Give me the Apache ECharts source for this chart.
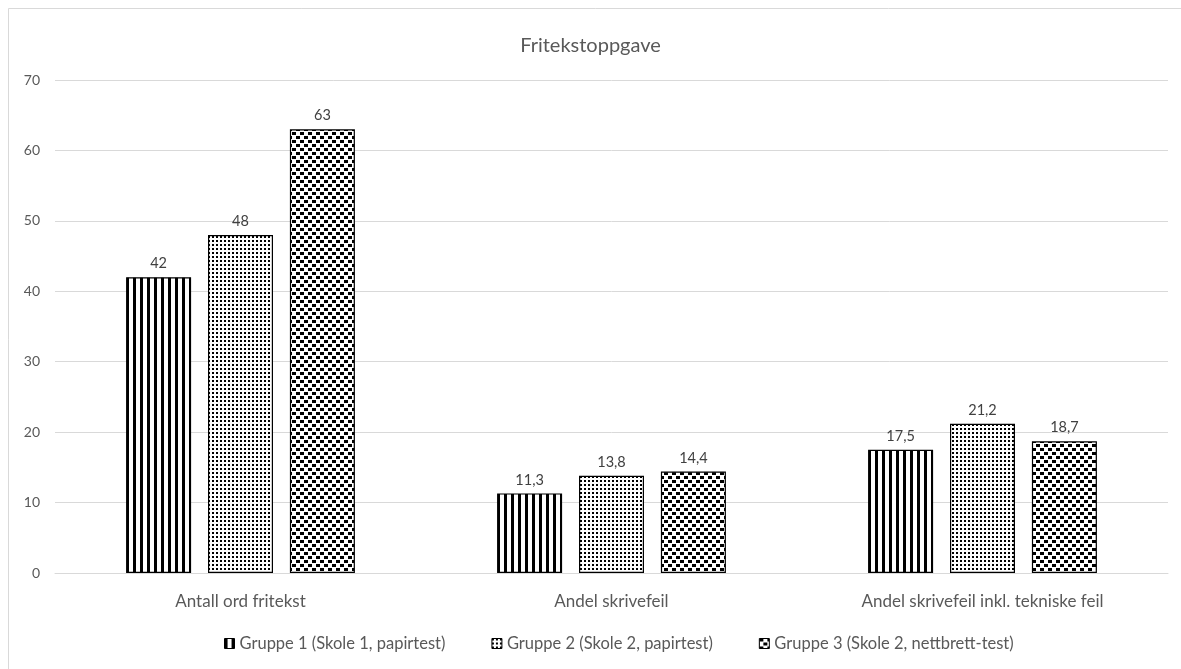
<!DOCTYPE html>
<html>
<head>
<meta charset="utf-8">
<script src="https://cdn.jsdelivr.net/npm/echarts@6/dist/echarts.min.js"></script>
<style>
  html, body { margin: 0; padding: 0; background: #fff; }
  #chart { width: 1181px; height: 669px; }
</style>
</head>
<body>
<div id="chart"></div>
<script>
// Chart data
const title = 'Fritekstoppgave';
const categories = ['Antall ord fritekst', 'Andel skrivefeil', 'Andel skrivefeil inkl. tekniske feil'];
const seriesNames = [
  'Gruppe 1 (Skole 1, papirtest)',
  'Gruppe 2 (Skole 2, papirtest)',
  'Gruppe 3 (Skole 2, nettbrett-test)'
];
const gruppe1 = [42, 11.3, 17.5];
const gruppe2 = [48, 13.8, 21.2];
const gruppe3 = [63, 14.4, 18.7];
const yTicks = { min: 0, max: 70, interval: 10 };

// Black-and-white hatch fills
function makePattern(w, h, rects) {
  const c = document.createElement('canvas');
  c.width = w; c.height = h;
  const ctx = c.getContext('2d');
  ctx.fillStyle = '#fff';
  ctx.fillRect(0, 0, w, h);
  ctx.fillStyle = '#000';
  rects.forEach(r => ctx.fillRect(r[0], r[1], r[2], r[3]));
  return { image: c, repeat: 'repeat' };
}
const stripes = makePattern(7, 4, [[0, 0, 3, 4]]);
const dots = makePattern(4, 4, [[0, 0, 2, 2]]);
const checks = makePattern(8, 8, [[0, 0, 4, 3], [4, 4, 4, 3]]);
const fills = [stripes, dots, checks];

const fontFamily = 'Lato, "Open Sans", sans-serif';
const chart = echarts.init(document.getElementById('chart'), null, { renderer: 'canvas' });

const dataSets = [gruppe1, gruppe2, gruppe3];
const series = dataSets.map((d, i) => ({
  name: seriesNames[i],
  type: 'bar',
  data: d,
  barWidth: 65,
  barGap: '26%',
  itemStyle: { color: fills[i], borderColor: '#000', borderWidth: 1.2 },
  label: {
    show: true,
    position: 'top',
    distance: 6,
    color: '#404040',
    fontSize: 14.5,
    fontFamily,
    formatter: p => String(p.value).replace('.', ',')
  }
}));

chart.setOption({
  animation: false,
  backgroundColor: '#fff',
  graphic: [{
    type: 'rect',
    shape: { x: 8.5, y: 8.5, width: 1200, height: 700 },
    style: { fill: 'none', stroke: '#d9d9d9', lineWidth: 1 },
    silent: true,
    z: -1
  }],
  title: {
    text: title,
    left: 'center',
    top: 31,
    textStyle: { color: '#595959', fontSize: 20, fontWeight: 'normal', fontFamily }
  },
  legend: {
    bottom: 12,
    left: 219,
    itemWidth: 10,
    itemHeight: 10,
    itemGap: 46,
    icon: 'rect',
    textStyle: { color: '#595959', fontSize: 16.5, fontFamily },
    data: seriesNames.map((n, i) => ({ name: n, itemStyle: { color: fills[i], borderColor: '#000', borderWidth: 1 } }))
  },
  grid: { left: 55, right: 13, top: 80, bottom: 96 },
  xAxis: {
    type: 'category',
    data: categories,
    axisLine: { lineStyle: { color: '#d9d9d9', width: 1 } },
    axisTick: { show: false },
    axisLabel: { color: '#595959', fontSize: 17, margin: 20, fontFamily }
  },
  yAxis: {
    type: 'value',
    min: yTicks.min,
    max: yTicks.max,
    interval: yTicks.interval,
    axisLine: { show: false },
    axisTick: { show: false },
    splitLine: { lineStyle: { color: '#d9d9d9', width: 1 } },
    axisLabel: { color: '#595959', fontSize: 14, margin: 15, fontFamily }
  },
  series
});
</script>
</body>
</html>
